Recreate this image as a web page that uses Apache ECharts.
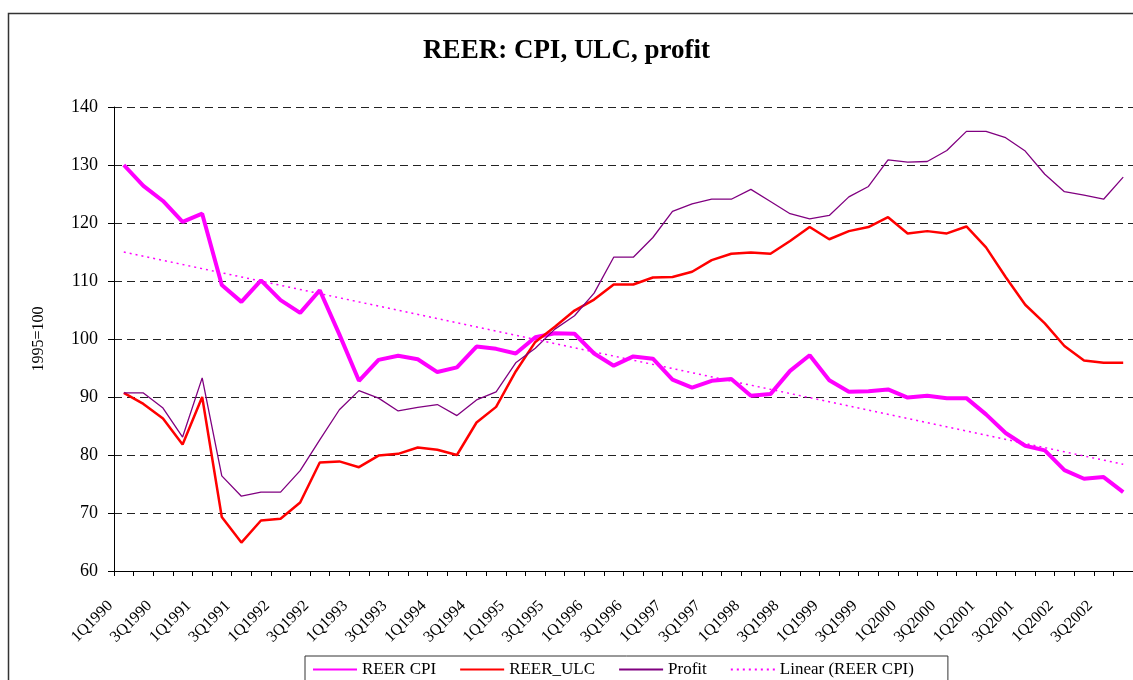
<!DOCTYPE html>
<html>
<head>
<meta charset="utf-8">
<title>REER: CPI, ULC, profit</title>
<script src="https://cdn.jsdelivr.net/npm/echarts@6/dist/echarts.min.js"></script>
<style>
  html, body { margin: 0; padding: 0; background: #fff; }
  #main { width: 1133px; height: 680px; }
</style>
</head>
<body>
<div id="main"></div>
<script>
  // quarters 1Q1990 .. 4Q2002
  var quarters = [
    '1Q1990','2Q1990','3Q1990','4Q1990','1Q1991','2Q1991','3Q1991','4Q1991',
    '1Q1992','2Q1992','3Q1992','4Q1992','1Q1993','2Q1993','3Q1993','4Q1993',
    '1Q1994','2Q1994','3Q1994','4Q1994','1Q1995','2Q1995','3Q1995','4Q1995',
    '1Q1996','2Q1996','3Q1996','4Q1996','1Q1997','2Q1997','3Q1997','4Q1997',
    '1Q1998','2Q1998','3Q1998','4Q1998','1Q1999','2Q1999','3Q1999','4Q1999',
    '1Q2000','2Q2000','3Q2000','4Q2000','1Q2001','2Q2001','3Q2001','4Q2001',
    '1Q2002','2Q2002','3Q2002','4Q2002'
  ];

  var reerCpi = [130.0, 126.4, 123.8, 120.2, 121.6, 109.3, 106.4, 110.1, 106.7, 104.5,
    108.4, 100.8, 92.8, 96.4, 97.1, 96.5, 94.3, 95.1, 98.7, 98.3,
    97.5, 100.3, 101.0, 100.9, 97.5, 95.4, 97.0, 96.6, 93.0, 91.6,
    92.8, 93.1, 90.2, 90.5, 94.5, 97.2, 92.9, 90.9, 91.0, 91.3,
    89.9, 90.2, 89.8, 89.8, 87.0, 83.8, 81.6, 80.8, 77.4, 75.9,
    76.2, 73.6];

  var reerUlc = [90.7, 88.8, 86.3, 81.8, 90.0, 69.3, 64.9, 68.7, 69.0, 71.8,
    78.7, 78.9, 77.9, 79.9, 80.2, 81.3, 80.9, 80.0, 85.6, 88.3,
    94.4, 99.5, 102.1, 104.9, 106.8, 109.4, 109.4, 110.6, 110.7, 111.6,
    113.6, 114.7, 114.9, 114.7, 116.9, 119.3, 117.2, 118.6, 119.3, 121.0,
    118.2, 118.6, 118.2, 119.4, 115.8, 110.7, 105.9, 102.7, 98.8, 96.3,
    95.9, 95.9];

  var profit = [90.7, 90.7, 88.1, 83.1, 93.3, 76.4, 72.9, 73.6, 73.6, 77.3,
    82.6, 87.8, 91.1, 89.8, 87.6, 88.2, 88.7, 86.8, 89.5, 90.9,
    95.9, 98.4, 101.7, 104.0, 107.9, 114.1, 114.1, 117.5, 122.0, 123.3,
    124.1, 124.1, 125.8, 123.7, 121.6, 120.7, 121.3, 124.5, 126.3, 130.9,
    130.5, 130.6, 132.5, 135.8, 135.8, 134.7, 132.4, 128.4, 125.4, 124.8,
    124.1, 127.9];

  // linear trend of REER CPI: value at first and last quarter
  var trendEnds = [115.0, 78.4];

  var trend = quarters.map(function (q, i) {
    if (i === 0) return trendEnds[0];
    if (i === quarters.length - 1) return trendEnds[1];
    return null;
  });

  var serif = "'Liberation Serif', 'Times New Roman', serif";

  var chartDom = document.getElementById('main');
  var myChart = echarts.init(chartDom);
  var option;

  option = {
    animation: false,
    backgroundColor: '#fff',
    textStyle: { fontFamily: serif, color: '#000' },
    graphic: [
      {
        type: 'rect',
        shape: { x: 8.5, y: 13.5, width: 1200, height: 800 },
        style: { fill: 'none', stroke: '#333', lineWidth: 1.5 },
        silent: true
      }
    ],
    title: {
      text: 'REER: CPI, ULC, profit',
      left: 'center',
      top: 33,
      textStyle: {
        fontFamily: serif,
        fontSize: 27,
        fontWeight: 'bold',
        color: '#000'
      }
    },
    legend: {
      left: 305,
      top: 656,
      padding: [5, 34, 6, 7],
      itemGap: 23,
      itemWidth: 44,
      itemHeight: 14,
      borderColor: '#333',
      borderWidth: 1,
      itemStyle: { opacity: 0 },
      textStyle: { fontFamily: serif, fontSize: 17, color: '#000' },
      data: ['REER CPI', 'REER_ULC', 'Profit', 'Linear (REER CPI)']
    },
    grid: {
      left: 114,
      top: 107,
      width: 1021,
      height: 464,
      containLabel: false
    },
    xAxis: {
      type: 'category',
      boundaryGap: true,
      data: quarters,
      axisLine: { lineStyle: { color: '#000', width: 1 } },
      axisTick: { show: true, interval: 0, length: 5, lineStyle: { color: '#000' } },
      axisLabel: {
        interval: 1,
        rotate: 45,
        margin: 19,
        fontFamily: serif,
        fontSize: 16,
        color: '#000',
        padding: [0, 19, 0, 0]
      },
      splitLine: { show: false }
    },
    yAxis: {
      type: 'value',
      min: 60,
      max: 140,
      interval: 10,
      name: '1995=100',
      nameLocation: 'middle',
      nameGap: 67,
      nameRotate: 90,
      nameTextStyle: { fontFamily: serif, fontSize: 16, color: '#000' },
      axisLine: { show: true, lineStyle: { color: '#000', width: 1 } },
      axisTick: { show: true, length: 6, lineStyle: { color: '#000' } },
      axisLabel: { margin: 16, fontFamily: serif, fontSize: 18, color: '#000' },
      splitLine: { show: true, lineStyle: { color: '#222', width: 1, type: [8, 5] } }
    },
    series: [
      {
        name: 'REER CPI',
        type: 'line',
        data: reerCpi,
        symbol: 'none',
        lineStyle: { color: '#FF00FF', width: 4 },
        itemStyle: { color: '#FF00FF' }
      },
      {
        name: 'REER_ULC',
        type: 'line',
        data: reerUlc,
        symbol: 'none',
        lineStyle: { color: '#FF0000', width: 2.5 },
        itemStyle: { color: '#FF0000' }
      },
      {
        name: 'Profit',
        type: 'line',
        data: profit,
        symbol: 'none',
        lineStyle: { color: '#800080', width: 1.3 },
        itemStyle: { color: '#800080' }
      },
      {
        name: 'Linear (REER CPI)',
        type: 'line',
        data: trend,
        connectNulls: true,
        symbol: 'none',
        lineStyle: { color: '#FF00FF', width: 1.5, type: [2, 4] },
        itemStyle: { color: '#FF00FF' }
      }
    ]
  };

  option && myChart.setOption(option);
</script>
</body>
</html>
